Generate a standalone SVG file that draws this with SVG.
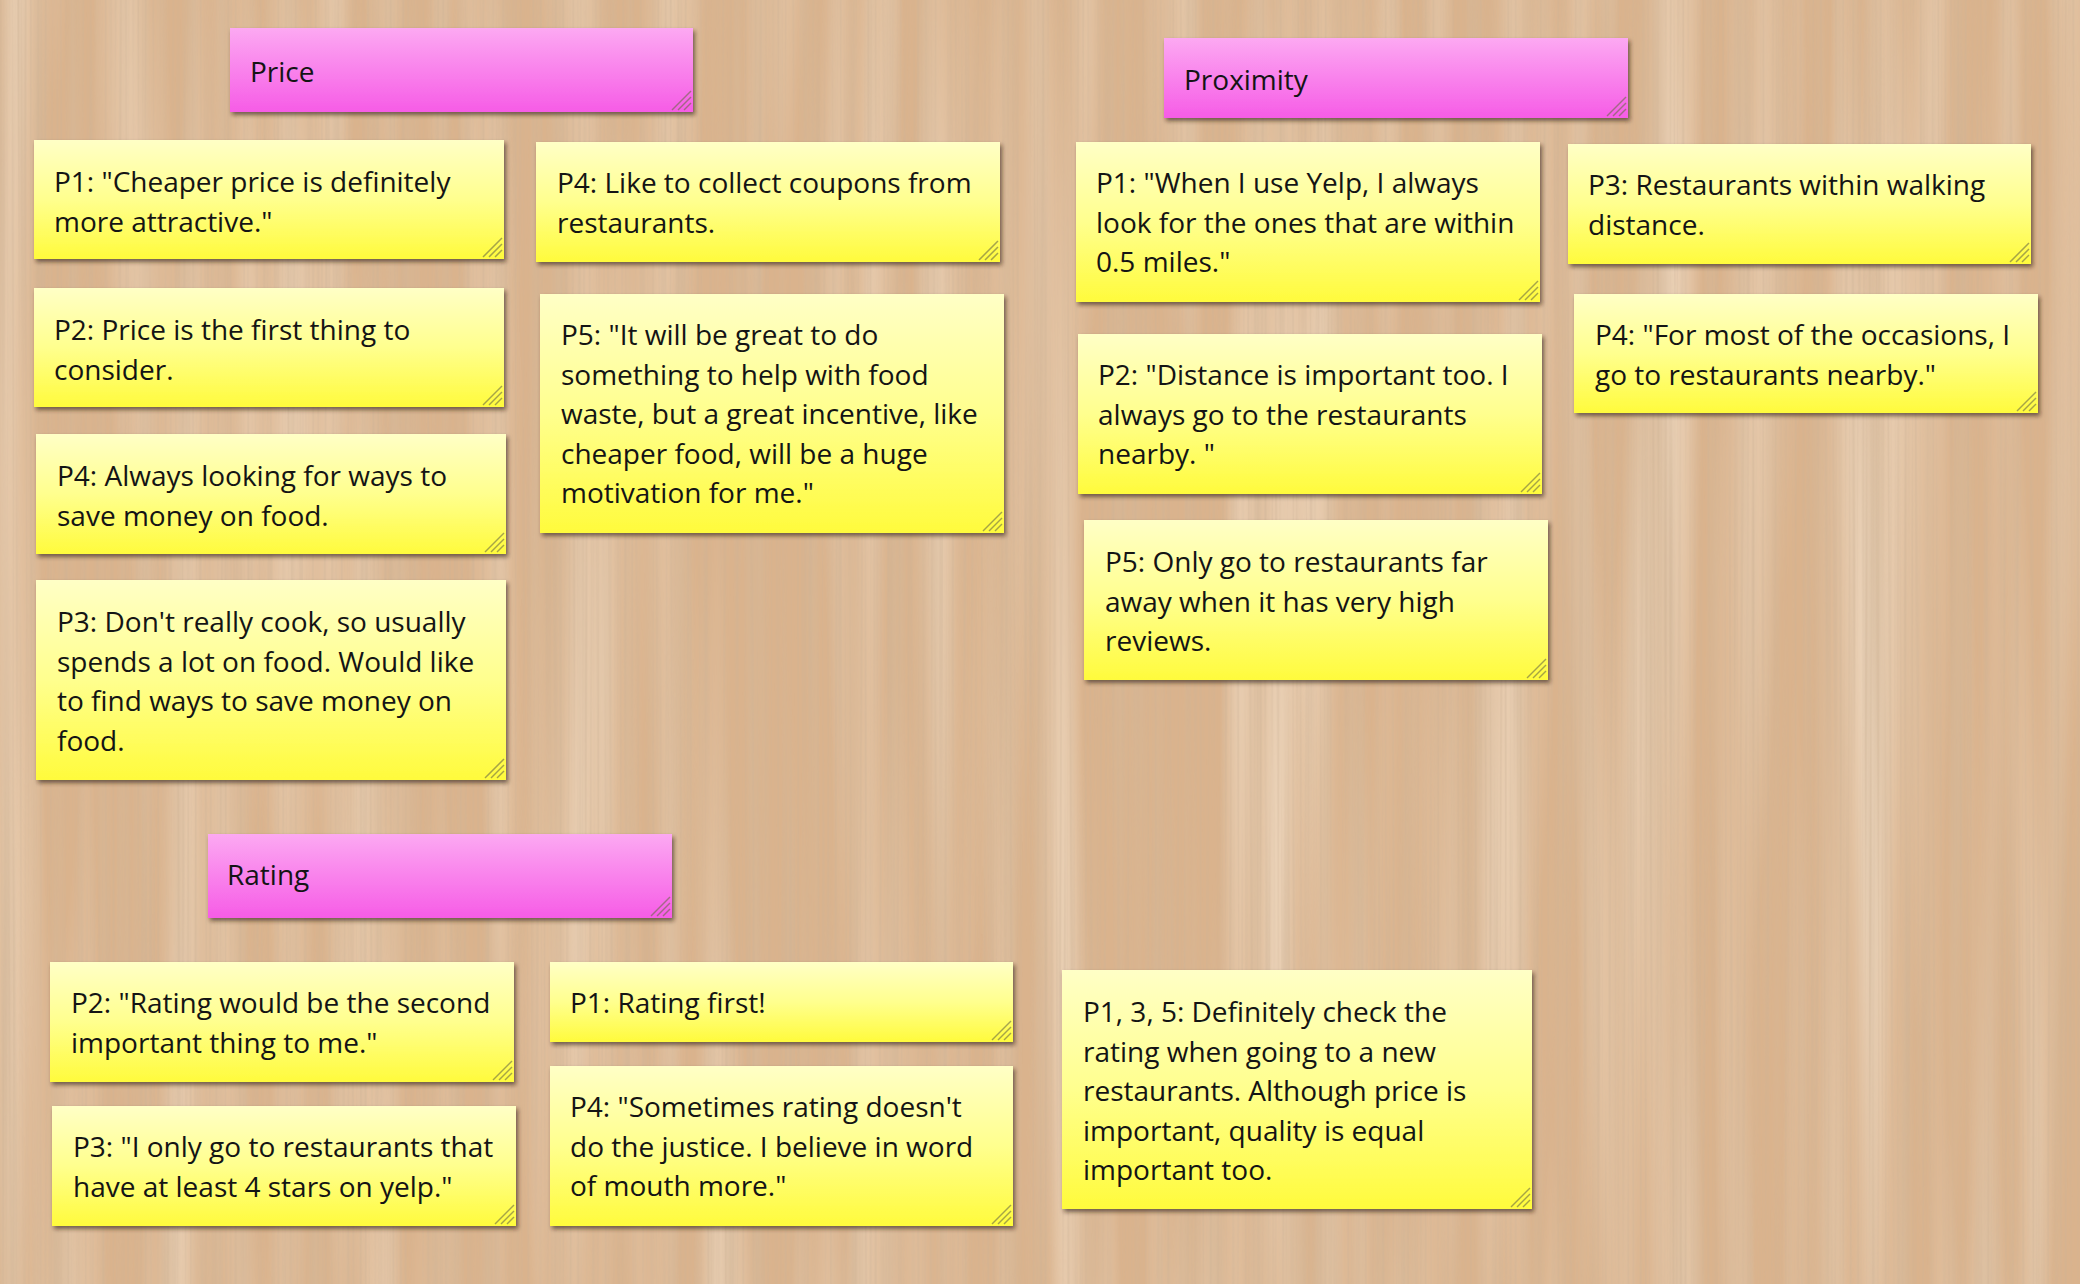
<svg xmlns="http://www.w3.org/2000/svg" xmlns:xlink="http://www.w3.org/1999/xlink" width="2080" height="1284" viewBox="0 0 2080 1284">
<style>
.t{font-family:"Open Sans","Noto Sans","Liberation Sans",sans-serif;font-size:28px;fill:#141414}
.y{fill:url(#gy);filter:url(#sh)}
.p{fill:url(#gp);filter:url(#sh)}
.h line{stroke:#6b6b45;stroke-opacity:0.6;stroke-width:1.5}
</style>
<defs>
<linearGradient id="gy" x1="0" y1="0" x2="0" y2="1">
<stop offset="0" stop-color="#ffffc6"/>
<stop offset="0.5" stop-color="#ffff8e"/>
<stop offset="1" stop-color="#fffb3c"/>
</linearGradient>
<linearGradient id="gp" x1="0" y1="0" x2="0" y2="1">
<stop offset="0" stop-color="#fca9f2"/>
<stop offset="1" stop-color="#f65ce6"/>
</linearGradient>
<filter id="sh" x="-5%" y="-10%" width="115%" height="130%">
<feDropShadow dx="2" dy="3" stdDeviation="2.2" flood-color="#2a1a0a" flood-opacity="0.6"/>
</filter>
<filter id="wood" filterUnits="userSpaceOnUse" x="0" y="0" width="2080" height="1284">
<feTurbulence type="fractalNoise" baseFrequency="0.02 0.0008" numOctaves="2" seed="11" result="n2"/>
<feColorMatrix in="n2" type="matrix" values="0 0 0 0 0.92  0 0 0 0 0.80  0 0 0 0 0.66  1.3 0 0 0 -0.55" result="light"/>
<feTurbulence type="fractalNoise" baseFrequency="0.06 0.001" numOctaves="3" seed="3" result="n"/>
<feColorMatrix in="n" type="matrix" values="0 0 0 0 0.66  0 0 0 0 0.49  0 0 0 0 0.33  1.3 0 0 0 -0.55" result="dark"/>
<feTurbulence type="fractalNoise" baseFrequency="0.4 0.0025" numOctaves="1" seed="5" result="n3"/>
<feColorMatrix in="n3" type="matrix" values="0 0 0 0 0.62  0 0 0 0 0.45  0 0 0 0 0.30  1.4 0 0 0 -0.62" result="fine"/>
<feMerge><feMergeNode in="light"/><feMergeNode in="dark"/><feMergeNode in="fine"/></feMerge>
</filter>
<g id="hatch" class="h">
<line x1="-21" y1="-2" x2="-2" y2="-21"/>
<line x1="-15" y1="-2" x2="-2" y2="-15"/>
<line x1="-9" y1="-2" x2="-2" y2="-9"/>
</g>
</defs>

<rect width="2080" height="1284" fill="#dab38d"/>
<rect width="2080" height="1284" fill="#fff" filter="url(#wood)"/>

<g id="connectors"></g>

<g id="price-header">
<rect class="p" x="230" y="28" width="463" height="84"/>
<use href="#hatch" x="693" y="112"/>
<text class="t" x="250" y="82">Price</text>
</g>

<g id="price-p1">
<rect class="y" x="34" y="140" width="470" height="119"/>
<use href="#hatch" x="504" y="259"/>
<text class="t" y="192"><tspan x="54">P1: "Cheaper price is definitely</tspan><tspan x="54" dy="39.6">more attractive."</tspan></text>
</g>

<g id="price-p2">
<rect class="y" x="34" y="288" width="470" height="119"/>
<use href="#hatch" x="504" y="407"/>
<text class="t" y="340"><tspan x="54">P2: Price is the first thing to</tspan><tspan x="54" dy="39.6">consider.</tspan></text>
</g>

<g id="price-p4a">
<rect class="y" x="36" y="434" width="470" height="120"/>
<use href="#hatch" x="506" y="554"/>
<text class="t" y="486"><tspan x="57">P4: Always looking for ways to</tspan><tspan x="57" dy="39.6">save money on food.</tspan></text>
</g>

<g id="price-p3">
<rect class="y" x="36" y="580" width="470" height="200"/>
<use href="#hatch" x="506" y="780"/>
<text class="t" y="632"><tspan x="57">P3: Don't really cook, so usually</tspan><tspan x="57" dy="39.6">spends a lot on food. Would like</tspan><tspan x="57" dy="39.6">to find ways to save money on</tspan><tspan x="57" dy="39.6">food.</tspan></text>
</g>

<g id="price-p4b">
<rect class="y" x="536" y="142" width="464" height="120"/>
<use href="#hatch" x="1000" y="262"/>
<text class="t" y="193"><tspan x="557">P4: Like to collect coupons from</tspan><tspan x="557" dy="39.6">restaurants.</tspan></text>
</g>

<g id="price-p5">
<rect class="y" x="540" y="294" width="464" height="239"/>
<use href="#hatch" x="1004" y="533"/>
<text class="t" y="345"><tspan x="561">P5: "It will be great to do</tspan><tspan x="561" dy="39.6">something to help with food</tspan><tspan x="561" dy="39.6">waste, but a great incentive, like</tspan><tspan x="561" dy="39.6">cheaper food, will be a huge</tspan><tspan x="561" dy="39.6">motivation for me."</tspan></text>
</g>

<g id="proximity-header">
<rect class="p" x="1164" y="38" width="464" height="80"/>
<use href="#hatch" x="1628" y="118"/>
<text class="t" x="1184" y="90">Proximity</text>
</g>

<g id="prox-p1">
<rect class="y" x="1076" y="142" width="464" height="160"/>
<use href="#hatch" x="1540" y="302"/>
<text class="t" y="193"><tspan x="1096">P1: "When I use Yelp, I always</tspan><tspan x="1096" dy="39.6">look for the ones that are within</tspan><tspan x="1096" dy="39.6">0.5 miles."</tspan></text>
</g>

<g id="prox-p3">
<rect class="y" x="1568" y="144" width="463" height="120"/>
<use href="#hatch" x="2031" y="264"/>
<text class="t" y="195"><tspan x="1588">P3: Restaurants within walking</tspan><tspan x="1588" dy="39.6">distance.</tspan></text>
</g>

<g id="prox-p4">
<rect class="y" x="1574" y="294" width="464" height="119"/>
<use href="#hatch" x="2038" y="413"/>
<text class="t" y="345"><tspan x="1595">P4: "For most of the occasions, I</tspan><tspan x="1595" dy="39.6">go to restaurants nearby."</tspan></text>
</g>

<g id="prox-p2">
<rect class="y" x="1078" y="334" width="464" height="160"/>
<use href="#hatch" x="1542" y="494"/>
<text class="t" y="385"><tspan x="1098">P2: "Distance is important too. I</tspan><tspan x="1098" dy="39.6">always go to the restaurants</tspan><tspan x="1098" dy="39.6">nearby. "</tspan></text>
</g>

<g id="prox-p5">
<rect class="y" x="1084" y="520" width="464" height="160"/>
<use href="#hatch" x="1548" y="680"/>
<text class="t" y="572"><tspan x="1105">P5: Only go to restaurants far</tspan><tspan x="1105" dy="39.6">away when it has very high</tspan><tspan x="1105" dy="39.6">reviews.</tspan></text>
</g>

<g id="rating-header">
<rect class="p" x="208" y="834" width="464" height="84"/>
<use href="#hatch" x="672" y="918"/>
<text class="t" x="227" y="885">Rating</text>
</g>

<g id="rating-p2">
<rect class="y" x="50" y="962" width="464" height="120"/>
<use href="#hatch" x="514" y="1082"/>
<text class="t" y="1013"><tspan x="71">P2: "Rating would be the second</tspan><tspan x="71" dy="39.6">important thing to me."</tspan></text>
</g>

<g id="rating-p3">
<rect class="y" x="52" y="1106" width="464" height="120"/>
<use href="#hatch" x="516" y="1226"/>
<text class="t" y="1157"><tspan x="73">P3: "I only go to restaurants that</tspan><tspan x="73" dy="39.6">have at least 4 stars on yelp."</tspan></text>
</g>

<g id="rating-p1">
<rect class="y" x="550" y="962" width="463" height="80"/>
<use href="#hatch" x="1013" y="1042"/>
<text class="t" x="570" y="1013">P1: Rating first!</text>
</g>

<g id="rating-p4">
<rect class="y" x="550" y="1066" width="463" height="160"/>
<use href="#hatch" x="1013" y="1226"/>
<text class="t" y="1117"><tspan x="570">P4: "Sometimes rating doesn't</tspan><tspan x="570" dy="39.6">do the justice. I believe in word</tspan><tspan x="570" dy="39.6">of mouth more."</tspan></text>
</g>

<g id="rating-p135">
<rect class="y" x="1062" y="970" width="470" height="239"/>
<use href="#hatch" x="1532" y="1209"/>
<text class="t" y="1022"><tspan x="1083">P1, 3, 5: Definitely check the</tspan><tspan x="1083" dy="39.6">rating when going to a new</tspan><tspan x="1083" dy="39.6">restaurants. Although price is</tspan><tspan x="1083" dy="39.6">important, quality is equal</tspan><tspan x="1083" dy="39.6">important too.</tspan></text>
</g>
</svg>
